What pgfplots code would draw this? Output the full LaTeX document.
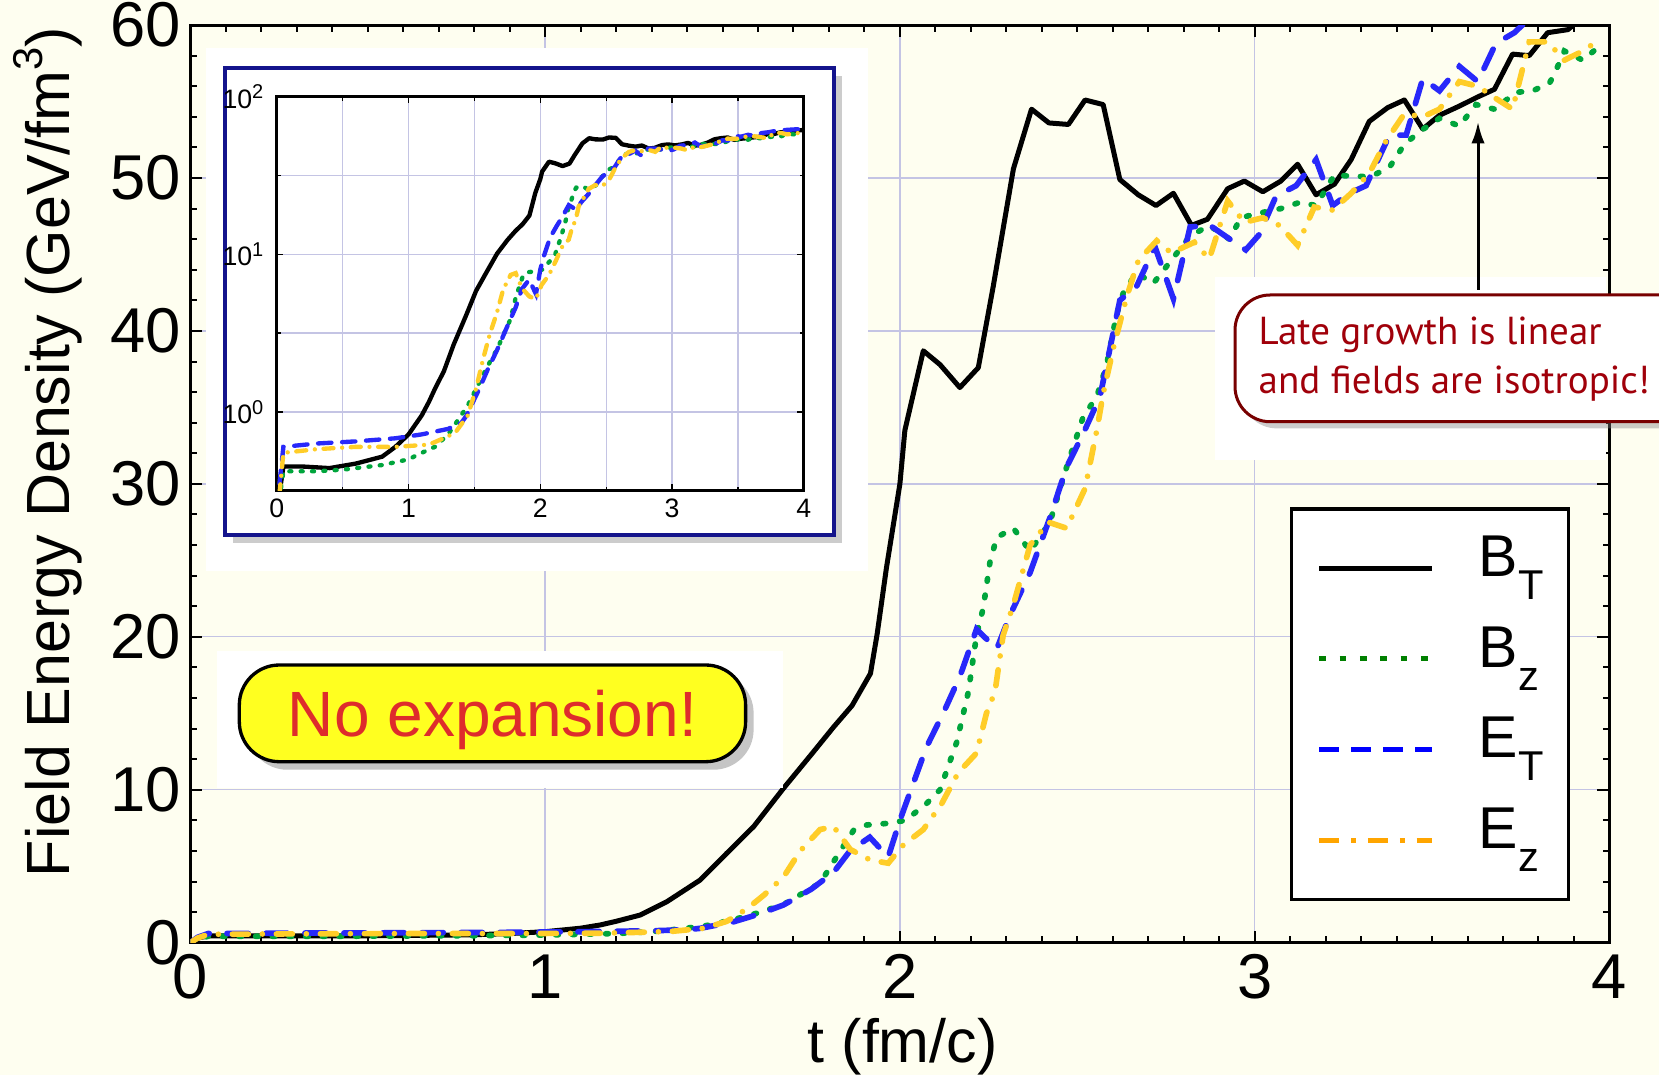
\documentclass[border=0pt]{standalone}
\usepackage{fontspec}
\setmainfont{Liberation Sans}
\newfontfamily\calloutfont{PT Sans}
\usepackage{pgfplots}
\usepackage{pgfplotstable}
\pgfplotsset{compat=1.18}
\usetikzlibrary{arrows.meta,shadows}

\definecolor{bgc}{RGB}{254,254,240}
\definecolor{gridc}{RGB}{196,196,228}
\definecolor{cblue}{RGB}{40,40,250}
\definecolor{cgreen}{RGB}{0,165,60}
\definecolor{cgold}{RGB}{255,205,40}
\definecolor{lgreen}{RGB}{0,128,0}
\definecolor{lblue}{RGB}{0,0,255}
\definecolor{lorange}{RGB}{255,165,0}
\definecolor{navyc}{RGB}{20,20,140}
\definecolor{yelc}{RGB}{255,255,32}
\definecolor{redc}{RGB}{222,44,44}
\definecolor{dredc}{RGB}{120,0,0}
\definecolor{txtred}{RGB}{160,0,10}

\newcommand\sub[1]{\raisebox{-6.9pt}{\fontsize{12.5}{12}\selectfont #1}}

% B_T
\pgfplotstableread{
t v
0 0
0.02 0.3
0.05 0.45
0.2 0.45
0.4 0.44
0.6 0.47
0.8 0.52
0.9 0.6
1.0 0.72
1.1 0.95
1.155 1.16
1.2 1.4
1.268 1.81
1.343 2.68
1.437 4.1
1.512 5.85
1.588 7.6
1.672 10.1
1.75 12.3
1.813 14.1
1.865 15.5
1.917 17.6
1.936 20.2
1.962 24.5
2.0 30.0
2.014 33.5
2.066 38.7
2.113 37.8
2.169 36.3
2.221 37.6
2.263 42.9
2.32 50.6
2.371 54.5
2.42 53.6
2.475 53.5
2.522 55.1
2.573 54.8
2.62 49.9
2.672 48.9
2.722 48.2
2.771 49.0
2.822 46.9
2.867 47.3
2.924 49.3
2.971 49.8
3.023 49.1
3.074 49.8
3.121 50.9
3.173 48.9
3.225 49.6
3.272 51.2
3.323 53.7
3.375 54.6
3.422 55.1
3.474 53.2
3.521 54.1
3.577 54.7
3.629 55.3
3.676 55.8
3.727 58.1
3.774 58.0
3.826 59.5
3.883 59.7
3.95 61.0
4.0 61.5
}\BT

% B_z
\pgfplotstableread{
t v
0 0
0.02 0.28
0.05 0.42
0.3 0.42
0.5 0.43
0.8 0.46
1.0 0.5
1.1 0.55
1.2 0.6
1.3 0.72
1.38 0.9
1.45 1.1
1.53 1.5
1.6 1.95
1.672 2.5
1.775 3.9
1.813 5.3
1.87 7.37
1.907 7.7
1.964 7.8
2.016 8.0
2.075 9.1
2.113 10.0
2.16 13.1
2.193 16.4
2.216 20.1
2.235 21.9
2.254 24.9
2.273 26.5
2.32 27.1
2.367 25.6
2.423 27.5
2.47 31.1
2.517 34.4
2.555 35.7
2.583 37.8
2.611 41.1
2.63 42.5
2.667 43.8
2.714 43.1
2.761 44.5
2.818 46.2
2.872 46.9
2.929 46.0
2.961 47.4
3.013 47.7
3.074 48.0
3.126 48.4
3.173 48.2
3.225 50.2
3.281 50.1
3.328 50.1
3.38 50.7
3.422 52.2
3.469 53.1
3.521 53.9
3.577 53.4
3.624 54.8
3.676 54.5
3.737 55.6
3.784 55.7
3.831 56.2
3.845 56.8
3.873 58.3
3.925 57.7
3.976 58.7
}\Bz

% E_T
\pgfplotstableread{
t v
0 0
0.02 0.35
0.05 0.6
0.3 0.63
0.6 0.65
0.9 0.68
1.1 0.72
1.3 0.78
1.4 0.85
1.437 0.94
1.53 1.36
1.6 1.85
1.672 2.47
1.75 3.5
1.813 4.6
1.859 6.0
1.915 6.9
1.967 5.6
2.0 8.0
2.028 9.8
2.075 12.8
2.122 15.0
2.169 17.4
2.216 20.5
2.273 19.2
2.31 21.4
2.367 24.2
2.423 27.8
2.47 31.1
2.517 33.3
2.564 35.7
2.597 39.4
2.62 42.0
2.667 42.9
2.719 45.5
2.771 42.1
2.818 46.8
2.874 46.9
2.93 46.0
2.975 45.3
3.013 46.3
3.06 48.8
3.117 49.5
3.173 51.2
3.22 48.2
3.267 49.0
3.314 49.5
3.38 52.8
3.427 52.8
3.474 56.5
3.521 55.7
3.577 57.3
3.629 56.3
3.68 58.8
3.732 59.5
3.8 61.0
3.9 61.8
4.0 62.5
}\ET

% E_z
\pgfplotstableread{
t v
0 0
0.02 0.3
0.05 0.55
0.3 0.58
0.6 0.6
0.9 0.6
1.155 0.62
1.3 0.7
1.36 0.75
1.45 0.95
1.512 1.4
1.568 2.2
1.616 3.1
1.672 4.3
1.719 6.0
1.775 7.4
1.813 7.6
1.86 6.1
1.917 5.4
1.967 5.2
2.01 6.4
2.066 7.4
2.118 9.1
2.164 11.1
2.216 12.4
2.244 15.0
2.268 16.4
2.291 20.1
2.32 22.1
2.367 26.0
2.418 27.5
2.47 27.1
2.522 29.7
2.555 33.5
2.573 35.9
2.602 38.9
2.639 42.2
2.672 44.6
2.724 45.9
2.765 45.1
2.83 45.8
2.872 44.7
2.924 48.5
2.971 47.1
3.023 47.4
3.07 46.9
3.121 45.6
3.168 48.1
3.22 47.9
3.272 49.0
3.323 50.3
3.37 52.4
3.422 54.2
3.474 54.0
3.521 54.5
3.577 56.3
3.629 56.0
3.68 55.2
3.727 54.5
3.774 58.9
3.826 58.9
3.873 57.7
3.925 58.3
3.976 59.1
}\Ez

\begin{document}
\begin{tikzpicture}
\path[use as bounding box, fill=bgc] (0pt,0pt) rectangle (497.7pt,322.5pt);

\begin{axis}[
at={(57.12pt,39.69pt)}, anchor=south west,
scale only axis, width=425.7pt, height=275.3pt,
xmin=0, xmax=4, ymin=0, ymax=60,
xtick={0,1,2,3,4}, ytick={0,10,...,60},
minor x tick num=9, minor y tick num=4,
tick align=inside,
major tick length=3.6pt, minor tick length=2pt,
grid=major,
grid style={draw=gridc, line width=0.4pt},
axis line style={line width=0.9pt},
tick style={line width=0.6pt, black},
ticklabel style={font=\fontsize{19}{21}\selectfont},
yticklabel style={xshift=0.6pt},
/pgf/number format/assume math mode=true,
label style={font=\fontsize{18.3}{21}\selectfont},
xlabel={t (fm/c)},
ylabel={Field Energy Density (GeV/fm\raisebox{0.45em}{\fontsize{12.5}{12}\selectfont 3})},
xlabel style={at={(axis description cs:0.502,-0.131)}, anchor=base},
ylabel style={at={(axis description cs:-0.1006,0.5347)}, anchor=center},
legend style={at={(0.775,0.4745)}, anchor=north west,
  draw=black, line width=1pt, fill=white,
  inner xsep=7.5pt, inner ysep=4.15pt, row sep=0pt,
  font=\fontsize{17.7}{20}\selectfont,
  nodes={inner sep=0pt, anchor=base west, text height=16.15pt, text depth=11.05pt},
  /tikz/every odd column/.append style={column sep=13.2pt}},
legend image code/.code={\draw[#1] (0pt,2.5pt) -- (33.9pt,2.5pt);},
]
\addplot[forget plot, black, line width=1.5pt, line join=round] table {\BT};
\addplot[forget plot, cgreen, line width=1.7pt, line cap=round, dash pattern=on 0.8pt off 4.2pt] table {\Bz};
\addplot[forget plot, cblue, line width=1.7pt, line cap=round, dash pattern=on 6.4pt off 5.3pt] table {\ET};
\addplot[forget plot, cgold, line width=1.7pt, line cap=round, dash pattern=on 4.8pt off 4.2pt on 0pt off 4.2pt] table {\Ez};

\addlegendimage{black, line width=1.5pt}
\addlegendentry{B\sub{T}}
\addlegendimage{lgreen, line width=1.5pt, dash pattern=on 2pt off 4.1pt}
\addlegendentry{B\sub{z}}
\addlegendimage{lblue, line width=1.5pt, dash pattern=on 6pt off 3.6pt}
\addlegendentry{E\sub{T}}
\addlegendimage{lorange, line width=1.5pt, dash pattern=on 6pt off 3.6pt on 1.4pt off 3.6pt}
\addlegendentry{E\sub{z}}
\end{axis}

\begin{scope}[x=0.3pt,y=0.3pt]
% white patches behind the annotations
\fill[white] (206,504) rectangle (868,1027);
\fill[white] (217,287) rectangle (783,424);
\fill[white] (1215,615) rectangle (1606,798);
% inset frame
\draw[navyc, line width=1.3pt, fill=white,
  drop shadow={shadow xshift=2.4pt, shadow yshift=-2.4pt, opacity=0.4}]
  (225,540) rectangle (834,1007);
\end{scope}

\begin{axis}[
at={(83.04pt,175.29pt)}, anchor=south west,
scale only axis, width=158.1pt, height=118.2pt,
xmin=0, xmax=4, ymode=log, ymin=0.3162, ymax=100,
xtick={0,1,2,3,4}, minor xtick={0.5,1.5,2.5,3.5},
ytick={1,10,100}, minor ytick={0.3162,3.162,31.62},
yticklabels={10\textsuperscript{0},10\textsuperscript{1},10\textsuperscript{2}},
grid=both,
grid style={draw=gridc, line width=0.4pt},
minor grid style={draw=gridc, line width=0.4pt},
tick align=inside,
major tick length=2pt, minor tick length=1.2pt,
axis line style={line width=0.9pt},
tick style={black, line width=0.4pt},
ticklabel style={font=\fontsize{8}{9}\selectfont},
xticklabel style={yshift=1pt},
/pgf/number format/assume math mode=true,
]
\addplot[black, line width=1.3pt, line join=round] table {\BT};
\addplot[cgreen, line width=1.3pt, line cap=round, dash pattern=on 0.6pt off 2.8pt] table {\Bz};
\addplot[cblue, line width=1.3pt, line cap=round, dash pattern=on 4pt off 3.2pt] table {\ET};
\addplot[cgold, line width=1.3pt, line cap=round, dash pattern=on 3pt off 2.6pt on 0pt off 2.6pt] table {\Ez};
\end{axis}

\begin{scope}[x=0.3pt,y=0.3pt]
% "No expansion!" box
\draw[rounded corners=12pt, fill=yelc, line width=1pt,
  drop shadow={shadow xshift=2.4pt, shadow yshift=-2.4pt, opacity=0.45}]
  (239.3,313.3) rectangle (745.6,410);
\node[anchor=base, text=redc, font=\fontsize{19.2}{22}\selectfont, inner sep=0pt]
  at (492.5,339) {No expansion!};
% callout
\draw[rounded corners=10.5pt, fill=white, draw=dredc, line width=0.9pt,
  drop shadow={shadow xshift=2pt, shadow yshift=-2pt, opacity=0.4}]
  (1235,653.3) rectangle (1720,780);
\node[anchor=base west, text=txtred, font=\calloutfont\fontsize{11.7}{14}\selectfont, inner sep=0pt]
  at (1258,730) {Late growth is linear};
\node[anchor=base west, text=txtred, font=\calloutfont\fontsize{11.7}{14}\selectfont, inner sep=0pt]
  at (1258,682) {and fields are isotropic!};
\draw[-{Latex[length=6.5pt,width=4pt]}, line width=0.9pt] (1478,785) -- (1478,953.3);
\end{scope}
\end{tikzpicture}
\end{document}
